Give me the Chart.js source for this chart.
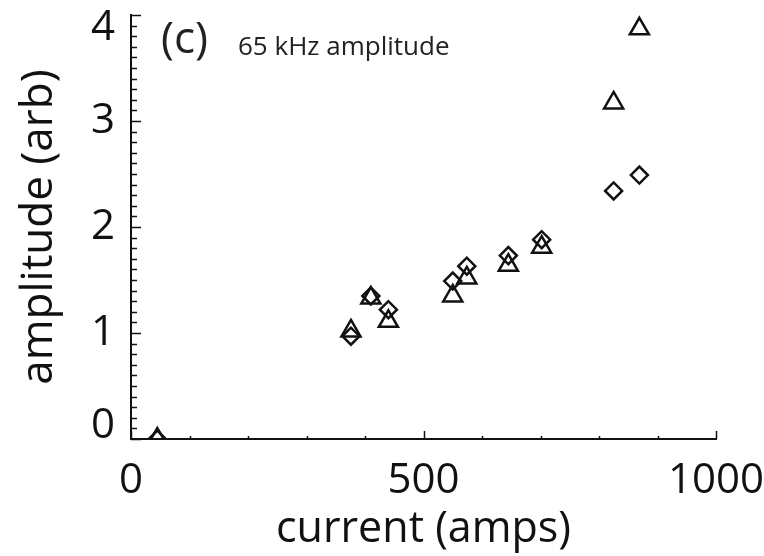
<!DOCTYPE html>
<html>
<head>
<meta charset="utf-8">
<script src="https://cdn.jsdelivr.net/npm/chart.js@4"></script>
<style>
  html, body { margin: 0; padding: 0; background: #fff; }
  #chart { display: block; }
</style>
</head>
<body>
<canvas id="chart" width="764" height="556"></canvas>
<script>
// coil current (amps) for each shot
const current = [45, 376, 410, 440, 550, 574, 645, 702, 825, 869];
// 65 kHz amplitude, two probes
const diamondAmp = [0, 0.97, 1.35, 1.22, 1.49, 1.63, 1.73, 1.88, 2.34, 2.49];
const triangleAmp = [0, 1.02, 1.33, 1.11, 1.35, 1.52, 1.64, 1.81, 3.17, 3.87];

const xTicks = [0, 500, 1000];
const yTicks = [0, 1, 2, 3, 4];
const panelLabel = "(c)";
const panelNote = "65 kHz amplitude";

const ink = "#111";
Chart.defaults.font.family = "'Open Sans', sans-serif";
Chart.defaults.color = ink;

function toPoints(ys) {
    return current.map((x, i) => ({ x: x, y: ys[i] }));
}

/* ---------- inward ticks + panel text ---------- */
const extras = {
    id: "extras",
    afterDraw(chart) {
        const { ctx, chartArea: a, scales: { x, y } } = chart;
        ctx.save();
        ctx.strokeStyle = ink;
        ctx.lineWidth = 1.5;
        ctx.beginPath();
        // y: minor every 0.1, major every 1
        for (let i = 0; i <= 40; i++) {
            const py = Math.round(y.getPixelForValue(i / 10)) + 0.5;
            const len = i % 10 === 0 ? 10 : 6;
            ctx.moveTo(a.left, py);
            ctx.lineTo(a.left + len, py);
        }
        // x: minor every 100, major every 500
        for (let i = 0; i <= 10; i++) {
            const px = Math.round(x.getPixelForValue(i * 100)) + 0.5;
            const len = i % 5 === 0 ? 8 : 3;
            ctx.moveTo(px, a.bottom);
            ctx.lineTo(px, a.bottom - len);
        }
        ctx.stroke();

        ctx.fillStyle = "#222";
        ctx.textBaseline = "alphabetic";
        ctx.font = "44px 'Open Sans'";
        ctx.fillText(panelLabel, a.left + 30, a.top + 38);
        ctx.font = "26px 'Open Sans'";
        ctx.fillText(panelNote, a.left + 107, a.top + 40);
        ctx.restore();
    }
};

new Chart(document.getElementById("chart"), {
    type: "scatter",
    data: {
        datasets: [
            {
                label: "diamond",
                data: toPoints(diamondAmp),
                pointStyle: "rectRot",
                pointRadius: 8.5,
                pointHoverRadius: 8.5,
                pointBorderWidth: 2.5,
                borderColor: ink,
                backgroundColor: "rgba(0,0,0,0)",
                clip: { left: 20, top: 20, right: 20, bottom: 0 }
            },
            {
                label: "triangle",
                data: toPoints(triangleAmp),
                pointStyle: "triangle",
                pointRadius: 11,
                pointHoverRadius: 11,
                pointBorderWidth: 2.5,
                borderColor: ink,
                backgroundColor: "rgba(0,0,0,0)",
                clip: { left: 20, top: 20, right: 20, bottom: 0 }
            }
        ]
    },
    options: {
        responsive: false,
        animation: false,
        layout: { padding: { top: 15, right: 48, bottom: 0, left: 0 } },
        plugins: {
            legend: { display: false },
            tooltip: { enabled: false }
        },
        scales: {
            x: {
                type: "linear",
                position: "bottom",
                min: 0,
                max: 1000,
                afterBuildTicks: (s) => { s.ticks = xTicks.map(v => ({ value: v })); },
                afterFit: (s) => { s.height = 117; s.paddingLeft = 0; s.paddingRight = 0; },
                grid: { display: false },
                border: { display: true, color: ink, width: 2 },
                ticks: {
                    font: { size: 42 },
                    color: ink,
                    padding: 9,
                    maxRotation: 0,
                    autoSkip: false,
                    callback: (v) => String(v)
                },
                title: {
                    display: true,
                    text: "current (amps)",
                    font: { size: 43 },
                    color: ink,
                    padding: 0
                }
            },
            y: {
                type: "linear",
                min: 0,
                max: 4,
                afterBuildTicks: (s) => { s.ticks = yTicks.map(v => ({ value: v })); },
                afterFit: (s) => { s.width = 131; s.paddingTop = 0; s.paddingBottom = 0; },
                grid: { display: false },
                border: { display: true, color: ink, width: 2 },
                ticks: {
                    font: { size: 42, lineHeight: 0.6 },
                    color: ink,
                    padding: 8,
                    // top and bottom labels sit inside the axis range
                    callback: (v) => v === yTicks[yTicks.length - 1] ? ["", String(v)]
                        : v === yTicks[0] ? [String(v), ""] : String(v)
                },
                title: {
                    display: true,
                    text: "amplitude (arb)",
                    font: { size: 44 },
                    color: ink,
                    padding: { top: 13, bottom: 0 }
                }
            }
        }
    },
    plugins: [extras]
});
</script>
</body>
</html>
